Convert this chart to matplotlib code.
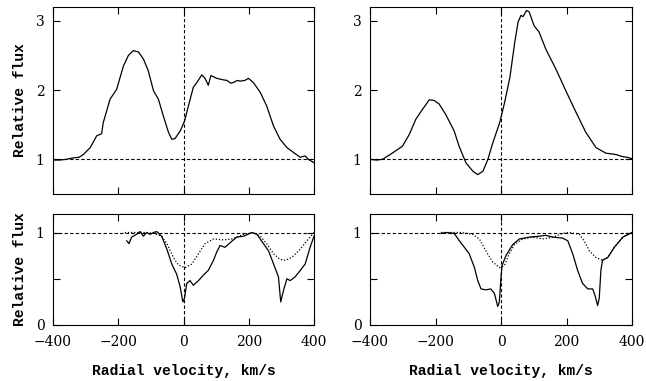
import numpy as np
import matplotlib
matplotlib.use("Agg")
from matplotlib import pyplot as plt

plt.rcParams['font.family'] = 'DejaVu Serif'
plt.rcParams['font.size'] = 10

# top-left: emission profile
vel_tl = [-400, -380, -360, -340, -320, -307, -286, -266, -251, -246, -225, -205, -184, -169,
          -154, -138, -123, -108, -92, -77, -62, -46, -36, -26, -10, 3, 15, 30, 41, 56, 66, 76,
          84, 102, 120, 133, 145, 153, 165, 174, 188, 199, 214, 235, 255, 276, 296, 317, 337,
          358, 373, 383, 400]
flux_tl = [0.99, 0.99, 1.0, 1.02, 1.03, 1.07, 1.17, 1.34, 1.37, 1.53, 1.87, 2.01, 2.35, 2.50,
           2.57, 2.55, 2.45, 2.28, 1.99, 1.87, 1.63, 1.39, 1.29, 1.30, 1.41, 1.55, 1.77, 2.04,
           2.11, 2.22, 2.17, 2.07, 2.21, 2.17, 2.15, 2.14, 2.10, 2.11, 2.14, 2.13, 2.14, 2.17,
           2.11, 1.97, 1.77, 1.48, 1.29, 1.17, 1.10, 1.03, 1.05, 1.0, 0.95]

# top-right: emission profile
vel_tr = [-400, -380, -362, -332, -301, -280, -260, -240, -219, -204, -189, -169, -143, -128,
          -107, -86, -71, -55, -40, -25, -4, 11, 27, 42, 52, 61, 67, 78, 86, 101, 116, 137,
          168, 198, 229, 259, 290, 320, 335, 351, 371, 385, 400]
flux_tr = [1.0, 0.99, 1.0, 1.09, 1.19, 1.36, 1.58, 1.72, 1.86, 1.85, 1.80, 1.65, 1.41, 1.19,
           0.95, 0.83, 0.78, 0.83, 1.0, 1.24, 1.53, 1.82, 2.18, 2.69, 2.98, 3.08, 3.06, 3.15,
           3.13, 2.93, 2.84, 2.59, 2.30, 1.99, 1.68, 1.39, 1.17, 1.09, 1.08, 1.07, 1.04, 1.03,
           1.01]

# bottom-left: absorption, observed (solid) and model (dotted)
vel_bl = [-174, -167, -159, -144, -133, -123, -113, -102, -92, -82, -67, -51, -36, -21, -10,
          -2, 3, 10, 20, 30, 46, 61, 76, 92, 102, 112, 127, 143, 163, 184, 210, 225, 245, 261,
          276, 291, 298, 307, 317, 327, 342, 358, 373, 388, 400]
flux_bl = [0.91, 0.88, 0.95, 0.98, 1.01, 0.96, 1.0, 0.98, 1.0, 1.01, 0.96, 0.82, 0.66, 0.55,
           0.41, 0.25, 0.29, 0.45, 0.48, 0.43, 0.48, 0.54, 0.59, 0.70, 0.79, 0.86, 0.84, 0.89,
           0.95, 0.96, 1.0, 0.98, 0.88, 0.80, 0.66, 0.52, 0.25, 0.38, 0.50, 0.48, 0.52, 0.59,
           0.66, 0.84, 0.96]
vel_bl_mod = [-180, -120, -90, -67, -51, -31, -16, 5, 26, 46, 66, 92, 122, 148, 184, 215,
              235, 255, 276, 296, 312, 332, 358, 378, 400]
flux_bl_mod = [1.0, 1.0, 0.99, 0.96, 0.88, 0.73, 0.65, 0.62, 0.66, 0.77, 0.88, 0.93, 0.92,
               0.93, 0.98, 1.0, 0.96, 0.88, 0.77, 0.71, 0.70, 0.73, 0.82, 0.91, 1.0]

# bottom-right
vel_br = [-183, -168, -143, -127, -112, -97, -81, -71, -61, -46, -31, -20, -10, -5, 0, 3, 15,
          36, 56, 86, 117, 137, 158, 188, 204, 219, 234, 249, 265, 280, 287, 295, 300, 305,
          310, 326, 346, 372, 400]
flux_br = [0.99, 1.0, 0.99, 0.91, 0.84, 0.77, 0.62, 0.48, 0.39, 0.38, 0.39, 0.34, 0.20, 0.25,
           0.52, 0.64, 0.75, 0.87, 0.93, 0.95, 0.96, 0.97, 0.95, 0.94, 0.91, 0.77, 0.59, 0.45,
           0.39, 0.39, 0.32, 0.21, 0.29, 0.59, 0.70, 0.73, 0.84, 0.95, 1.0]
vel_br_mod = [-183, -120, -86, -66, -46, -25, -5, 10, 25, 41, 66, 97, 127, 158, 188, 209, 239,
              254, 270, 290, 310, 326, 346, 372, 400]
flux_br_mod = [1.0, 1.0, 0.98, 0.93, 0.80, 0.68, 0.62, 0.64, 0.77, 0.87, 0.93, 0.95, 0.93,
               0.95, 0.99, 1.0, 0.98, 0.91, 0.80, 0.73, 0.70, 0.73, 0.84, 0.95, 1.0]

xticks = [-400, -200, 0, 200, 400]
xlabel = 'Radial velocity, km/s'
ylabel = 'Relative flux'
label_font = dict(family='Liberation Mono', size=10.5, weight='bold')

W, H = 646, 381
fig = plt.figure(figsize=(W / 100, H / 100), dpi=100)


def box(x0, y0, x1, y1):
    return [x0 / W, 1 - y1 / H, (x1 - x0) / W, (y1 - y0) / H]


def style(ax):
    ax.set_xlim(-400, 400)
    ax.set_xticks(xticks)
    ax.tick_params(direction='in', top=True, right=True, length=5, width=0.8)
    ax.tick_params(axis='x', pad=7)
    ax.tick_params(axis='y', pad=6)
    for s in ax.spines.values():
        s.set_linewidth(0.8)
    ax.axhline(1, color='k', ls=(0, (3, 2)), lw=0.8)
    ax.axvline(0, color='k', ls=(0, (3, 2)), lw=0.8)


panels = [
    (box(53, 7, 314, 194), vel_tl, flux_tl, None, None, True, False),
    (box(370, 7, 632, 194), vel_tr, flux_tr, None, None, False, False),
    (box(53, 214, 314, 325), vel_bl, flux_bl, vel_bl_mod, flux_bl_mod, True, True),
    (box(370, 214, 632, 325), vel_br, flux_br, vel_br_mod, flux_br_mod, False, True),
]

for rect, v, f, vm, fm, left, bottom in panels:
    ax = fig.add_axes(rect)
    style(ax)
    if vm is not None:
        ax.plot(vm, fm, color='k', ls=(0, (1, 1.5)), lw=0.9)
    ax.plot(v, f, color='k', lw=0.9)
    if bottom:
        ax.set_ylim(0, 1.2)
        ax.set_yticks([0, 0.5, 1])
        ax.set_yticklabels(['0', '', '1'])
        ax.set_xlabel(xlabel, labelpad=11, fontdict=label_font)
    else:
        ax.set_ylim(0.5, 3.2)
        ax.set_yticks([1, 2, 3])
        ax.set_xticklabels([])
    if left:
        ax.set_ylabel(ylabel, labelpad=6, fontdict=label_font)

fig.savefig('out.png', dpi=100)
